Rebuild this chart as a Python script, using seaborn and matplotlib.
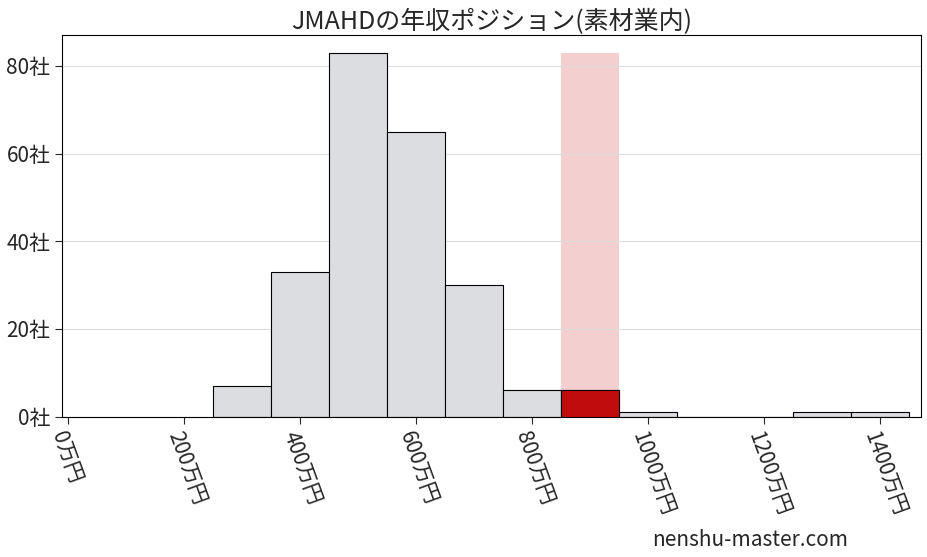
import numpy as np
import pandas as pd
import matplotlib
matplotlib.use("Agg")
import matplotlib.pyplot as plt
import seaborn as sns

sns.set_style("white")
plt.rcParams['font.family'] = ['Noto Sans CJK JP', 'DejaVu Sans']

# salary bins (万円) and company counts
bin_centers = [300, 400, 500, 600, 700, 800, 900, 1000, 1100, 1200, 1300, 1400]
counts = [7, 33, 83, 65, 30, 6, 6, 1, 0, 0, 1, 1]
highlight = 900
edges = list(range(250, 1451, 100))
xticks = [0, 200, 400, 600, 800, 1000, 1200, 1400]
yticks = [0, 20, 40, 60, 80]

df = pd.DataFrame({'salary': bin_centers, 'count': counts})
hl = df[df['salary'] == highlight]

fig, ax = plt.subplots(figsize=(9.27, 5.57), dpi=100)
ax.axvspan(highlight - 50, highlight + 50, ymax=max(counts) / 87, color='#e8a0a0', alpha=0.5, lw=0, zorder=0)
sns.histplot(data=df, x='salary', weights='count', bins=edges, color='#dcdde0',
             edgecolor='black', linewidth=0.8, alpha=1, ax=ax, zorder=2)
sns.histplot(data=hl, x='salary', weights='count', bins=[highlight - 50, highlight + 50],
             color='#c00c0c', edgecolor='black', linewidth=0.8, alpha=1, ax=ax, zorder=3)

ax.set_xlim(-10, 1470)
ax.set_ylim(0, 87)
ax.set_xticks(xticks)
ax.set_xticklabels([f'{v}万円' for v in xticks], rotation=-70, ha='left', rotation_mode='anchor', fontsize=15)
ax.set_yticks(yticks)
ax.set_yticklabels([f'{v}社' for v in yticks], fontsize=15)
ax.tick_params(axis='both', length=5, direction='out', bottom=True, left=True)
ax.yaxis.grid(True, color='#dddddd', lw=0.8)
ax.set_axisbelow(True)
ax.set_xlabel('')
ax.set_ylabel('')
for s in ax.spines.values():
    s.set_color('black')
ax.set_title('JMAHDの年収ポジション(素材業内)', fontsize=18, pad=4)
fig.text(0.915, 0.02, 'nenshu-master.com', ha='right', fontsize=15)
plt.subplots_adjust(left=0.067, right=0.993, top=0.937, bottom=0.252)
fig.savefig('out.png')
